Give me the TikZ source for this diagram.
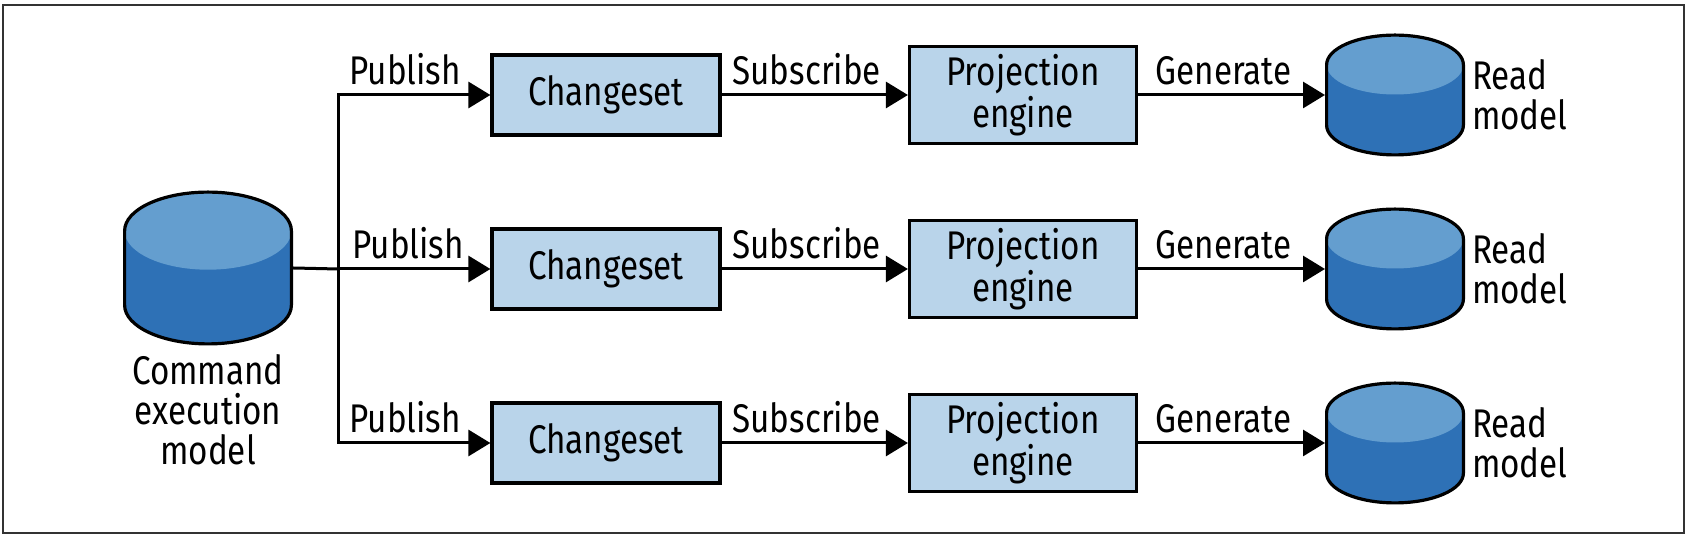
\documentclass[tikz,border=0pt]{standalone}
\usepackage{fontspec}
\setmainfont[FakeStretch=0.83]{Fira Sans}
\usetikzlibrary{arrows.meta}
\usetikzlibrary{positioning}
\usetikzlibrary{calc}

\definecolor{boxfill}{HTML}{B9D4EA}
\definecolor{dbtop}{HTML}{649ECF}
\definecolor{dbbody}{HTML}{2E71B6}

\tikzset{
  stepbox/.style={draw, line width=1.6pt, fill=boxfill, inner sep=0pt,
    align=center, font=\fontsize{20}{16}\selectfont},
  dbslot/.style={inner sep=0pt, outer sep=0.8pt},
  flow/.style={line width=1.5pt, -{Triangle[length=11pt,width=13pt]}},
  lbl/.style={font=\fontsize{20}{20}\selectfont},
}

% cylinder drawn round a named slot: name, x radius, y radius, half height
\newcommand{\dbdraw}[4]{%
  \fill[dbbody] ($(#1.center)+(-#2,#4-#3)$) -- ($(#1.center)+(-#2,#3-#4)$)
     arc[start angle=180, end angle=360, x radius=#2, y radius=#3]
     -- ($(#1.center)+(#2,#4-#3)$)
     arc[start angle=0, end angle=180, x radius=#2, y radius=#3] -- cycle;
  \fill[dbtop] ($(#1.center)+(0,#4-#3)$) ellipse[x radius=#2, y radius=#3];
  \draw[line width=1.6pt] ($(#1.center)+(-#2,#4-#3)$) -- ($(#1.center)+(-#2,#3-#4)$)
     arc[start angle=180, end angle=360, x radius=#2, y radius=#3]
     -- ($(#1.center)+(#2,#4-#3)$)
     arc[start angle=0, end angle=180, x radius=#2, y radius=#3] -- cycle;
}

\begin{document}
\begin{tikzpicture}[x=1pt, y=1pt]
            % Frame
            \useasboundingbox (0,0) rectangle (844,270);
            \draw[line width=0.75pt, black!80] (1.5,3.5) rectangle (842,267.5);

            % Command side
            \node[dbslot, minimum width=83.4pt, minimum height=75.9pt] (cmd) at (104,136) {};
            \dbdraw{cmd}{41.7}{19.4}{37.95}
            \node[lbl, align=center, below=1pt of cmd] (cmdlbl) {Command\\execution\\model};
            \coordinate (fork) at (169,135.5);

            % Three rows
            \foreach \r/\y in {1/222.5, 2/135.5, 3/48.5} {
                \node[stepbox, minimum width=114pt, minimum height=40pt] (cs\r) at (303,\y) {Changeset};
                \node[stepbox, minimum width=113.5pt, minimum height=48.5pt] (pe\r) at (511.5,\y) {Projection\\engine};
                \node[dbslot, minimum width=68.4pt, minimum height=59.9pt] (rm\r) at (697.5,\y) {};
                \dbdraw{rm\r}{34.2}{14.85}{29.95}
                \node[lbl, align=left, right=0pt of rm\r] (rml\r) {Read\\model};

                \draw[flow] (cs\r) -- node[lbl, above=1pt, xshift=-4pt] {Subscribe} (pe\r);
                \draw[flow] (pe\r) -- node[lbl, above=1pt, xshift=-4pt] {Generate} (rm\r);
            }

            % Publish arrows
            \draw[line width=1.5pt] (cmd.east) -- (fork);
            \draw[flow] (fork) -- node[lbl, above=1pt, xshift=-3pt] {Publish} (cs2);
            \draw[flow] (fork) |- node[lbl, pos=0.72, above=1pt] {Publish} (cs1);
            \draw[flow] (fork) |- node[lbl, pos=0.72, above=1pt] {Publish} (cs3);
        \end{tikzpicture}
\end{document}
